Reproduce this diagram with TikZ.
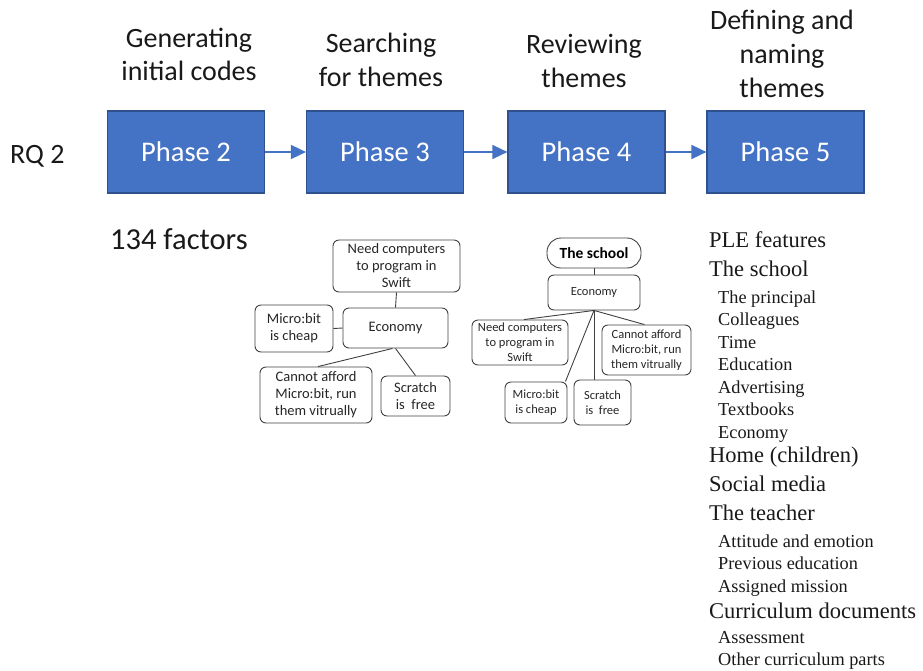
\documentclass[tikz,border=0pt]{standalone}
\usepackage{fontspec}
\setmainfont{Carlito}
\newfontfamily\seriffont{Liberation Serif}
\usetikzlibrary{arrows.meta}
\definecolor{phaseblue}{HTML}{4472C4}
\definecolor{phaseedge}{HTML}{2F528F}
\definecolor{boxedge}{HTML}{404040}
\definecolor{boxtext}{HTML}{262626}
\tikzset{
  phasebox/.style={fill=phaseblue, draw=phaseedge, line width=1.2pt,
    minimum width=157pt, minimum height=82pt, inner sep=0pt},
  phaselabel/.style={anchor=base, text=white, inner sep=0pt,
    font=\fontsize{28.5}{33}\selectfont},
  heading/.style={anchor=base, inner sep=0pt, text=black!90,
    font=\fontsize{28}{33}\selectfont},
  flow/.style={draw=phaseblue, line width=1.6pt,
    -{Triangle[length=15pt,width=14pt]}},
  mapbox/.style={draw=boxedge, line width=0.9pt, rounded corners=6pt,
    align=center, inner sep=0pt, text=boxtext},
  mapA/.style={mapbox, font=\fontsize{14.5}{17}\selectfont},
  mapB/.style={mapbox, font=\fontsize{12.5}{15}\selectfont},
  link/.style={draw=boxedge, line width=0.9pt},
  bigitem/.style={anchor=base west, inner sep=0pt, text=black!90,
    font=\seriffont\fontsize{22.5}{26}\selectfont},
  subitem/.style={anchor=base west, inner sep=0pt, text=black!90,
    font=\seriffont\fontsize{18.3}{22}\selectfont},
}
\begin{document}
\begin{tikzpicture}[x=1pt,y=-1pt]
\useasboundingbox (0,0) rectangle (923,670);

% --- phase chain ---
\node[phasebox] (p2) at (186,152) {};
\node[phasebox] (p3) at (385,152) {};
\node[phasebox] (p4) at (586.5,152) {};
\node[phasebox] (p5) at (785.5,152) {};
\node[phaselabel] (p2t) at (186,161) {Phase 2};
\node[phaselabel] (p3t) at (385,161) {Phase 3};
\node[phaselabel] (p4t) at (586.5,161) {Phase 4};
\node[phaselabel] (p5t) at (785.5,161) {Phase 5};
\draw[flow] (p2.east) -- (p3.west);
\draw[flow] (p3.east) -- (p4.west);
\draw[flow] (p4.east) -- (p5.west);

% --- phase headings ---
\node[heading] (h2a) at (189,47) {Generating};
\node[heading] (h2b) at (189,80) {initial codes};
\node[heading] (h3a) at (381,52) {Searching};
\node[heading] (h3b) at (381,86) {for themes};
\node[heading] (h4a) at (584,53) {Reviewing};
\node[heading] (h4b) at (584,87) {themes};
\node[heading] (h5a) at (782,29) {Defining and};
\node[heading] (h5b) at (782,63) {naming};
\node[heading] (h5c) at (782,97) {themes};

\node[heading, anchor=base west] (rq) at (10,163) {RQ 2};
\node[heading, anchor=base west, font=\fontsize{30.5}{35}\selectfont] (factors) at (110,249) {134 factors};

% --- concept map of phase 3 ---
\node[mapA, minimum width=127pt, minimum height=52pt] (needA) at (396.5,266)
  {Need computers\\to program in\\Swift};
\node[mapA, minimum width=105pt, minimum height=40pt] (ecoA) at (395.5,328) {Economy};
\node[mapA, minimum width=78pt, minimum height=47pt] (microA) at (294,328.5)
  {Micro:bit\\is cheap};
\node[mapA, minimum width=112pt, minimum height=56pt] (cannotA) at (316,395)
  {Cannot afford\\Micro:bit, run\\them vitrually};
\node[mapA, minimum width=69pt, minimum height=40pt] (scratchA) at (415.5,396)
  {Scratch\\is~ free};
\draw[link] (needA.south) -- (ecoA.north);
\draw[link] (microA.east) -- (ecoA.west);
\draw[link] ([xshift=-3pt]ecoA.south) -- ([xshift=2pt]cannotA.north);
\draw[link] (ecoA.south) -- (scratchA.north);

% --- concept map of phase 4 ---
\node[mapbox, rounded corners=14pt, minimum width=94pt, minimum height=30pt,
  font=\bfseries\fontsize{15.5}{18}\selectfont, text=black] (schoolB) at (594,253) {The school};
\node[mapB, minimum width=92pt, minimum height=35pt] (ecoB) at (594,292.5) {Economy};
\node[mapB, minimum width=96pt, minimum height=45pt] (needB) at (520,342.5)
  {Need computers\\to program in\\Swift};
\node[mapB, minimum width=89pt, minimum height=50pt] (cannotB) at (646.5,350)
  {Cannot afford\\Micro:bit, run\\them vitrually};
\node[mapB, minimum width=62pt, minimum height=41pt] (microB) at (536,402.5)
  {Micro:bit\\is cheap};
\node[mapB, minimum width=57pt, minimum height=45pt] (scratchB) at (602.5,402.5)
  {Scratch\\is~ free};
\draw[link] (schoolB.south) -- (ecoB.north);
\draw[link] (ecoB.south) -- ([xshift=4pt]needB.north);
\draw[link] (ecoB.south) -- ([xshift=-2pt]microB.north east);
\draw[link] (ecoB.south) -- ([xshift=-8.5pt]scratchB.north);
\draw[link] (ecoB.south) -- ([xshift=-2pt]cannotB.north);

% --- theme list of phase 5 ---
\node[bigitem] (t1) at (709,247) {PLE features};
\node[bigitem] (t2) at (709,276) {The school};
\node[subitem] (t2a) at (718,303) {The principal};
\node[subitem] (t2b) at (718,325.5) {Colleagues};
\node[subitem] (t2c) at (718,348) {Time};
\node[subitem] (t2d) at (718,370.5) {Education};
\node[subitem] (t2e) at (718,393) {Advertising};
\node[subitem] (t2f) at (718,415.5) {Textbooks};
\node[subitem] (t2g) at (718,438) {Economy};
\node[bigitem] (t3) at (709,462) {Home (children)};
\node[bigitem] (t4) at (709,491) {Social media};
\node[bigitem] (t5) at (709,520) {The teacher};
\node[subitem] (t5a) at (718,547) {Attitude and emotion};
\node[subitem] (t5b) at (718,569.5) {Previous education};
\node[subitem] (t5c) at (718,592) {Assigned mission};
\node[bigitem] (t6) at (709,618) {Curriculum documents};
\node[subitem] (t6a) at (718,643) {Assessment};
\node[subitem] (t6b) at (718,665) {Other curriculum parts};
\end{tikzpicture}
\end{document}
